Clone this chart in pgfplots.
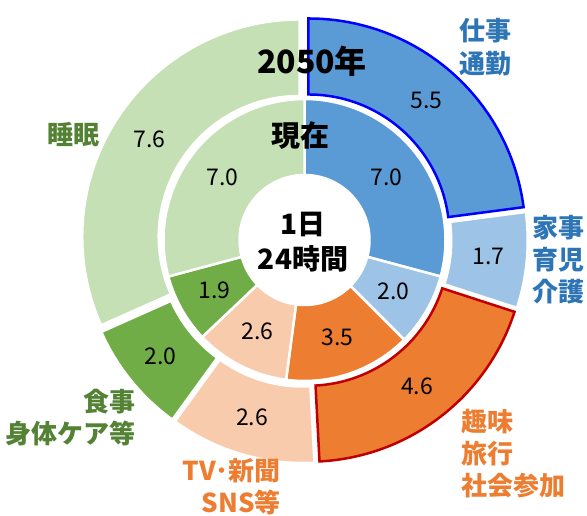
\documentclass[border=0pt]{standalone}
\usepackage{pgfplots}
\pgfplotsset{compat=1.18}
\usepackage{pgfplotstable}
\usepackage{fontspec}
\setmainfont{Noto Sans CJK JP}

\definecolor{cWork}{HTML}{5B9BD5}
\definecolor{cHouse}{HTML}{9DC3E6}
\definecolor{cHobby}{HTML}{ED7D31}
\definecolor{cTV}{HTML}{F8CBAD}
\definecolor{cMeal}{HTML}{70AD47}
\definecolor{cSleep}{HTML}{C5E0B4}
\definecolor{bWork}{HTML}{0000FF}
\definecolor{bHobby}{HTML}{C00000}
\definecolor{tBlue}{HTML}{2E75B6}
\definecolor{tOrange}{HTML}{ED7D31}
\definecolor{tGreen}{HTML}{548235}

% current (inner ring), hours per day
\pgfplotstableread{
val col border bw
7.0 cWork white 2.5
2.0 cHouse white 2.5
3.5 cHobby white 2.5
2.6 cTV white 2.5
1.9 cMeal white 2.5
7.0 cSleep white 2.5
}\innerdata

% 2050 (outer ring)
\pgfplotstableread{
val col border bw
5.5 cWork bWork 2.5
1.7 cHouse white 2
4.6 cHobby bHobby 2.5
2.6 cTV white 2
2.0 cMeal white 2
7.6 cSleep white 2
}\outerdata

\def\cx{304.5}
\def\cy{276}

% #1 table, #2 inner radius, #3 outer radius, #4 explosion
\newcommand\drawring[4]{%
  \pgfplotstablegetrowsof{#1}%
  \pgfmathtruncatemacro\lastrow{\pgfplotsretval-1}%
  \gdef\cum{0}%
  \foreach \i in {0,...,\lastrow}{%
    \pgfplotstablegetelem{\i}{val}\of{#1}\let\sV\pgfplotsretval
    \pgfplotstablegetelem{\i}{col}\of{#1}\let\sC\pgfplotsretval
    \pgfplotstablegetelem{\i}{border}\of{#1}\let\sB\pgfplotsretval
    \pgfplotstablegetelem{\i}{bw}\of{#1}\let\sW\pgfplotsretval
    \pgfmathsetmacro\sA{90-15*\cum}%
    \pgfmathsetmacro\sE{90-15*(\cum+\sV)}%
    \pgfmathsetmacro\sM{(\sA+\sE)/2}%
    \pgfmathsetmacro\sR{(#2+#3)/2}%
    \begin{scope}[shift={(axis cs:\cx,\cy)}, shift={(\sM:#4pt)}]
      \filldraw[fill=\sC, draw=\sB, line width=\sW pt, line join=miter]
        (\sA:#2pt) arc[start angle=\sA, end angle=\sE, radius=#2pt]
        -- (\sE:#3pt) arc[start angle=\sE, end angle=\sA, radius=#3pt] -- cycle;
      \node[font=\fontsize{23}{26}\selectfont, inner sep=0pt] at (\sM:\sR pt) {\sV};
    \end{scope}
    \pgfmathsetmacro\nc{\cum+\sV}%
    \xdef\cum{\nc}%
  }%
}

\begin{document}
\begin{tikzpicture}
\begin{axis}[
  x=1pt, y=1pt,
  xmin=0, xmax=587, ymin=0, ymax=516,
  hide axis, clip=false,
]
\pgfplotsextra{
  \path (axis cs:0,0) rectangle (axis cs:587,516);
  \drawring{\innerdata}{65}{141}{0}
  \drawring{\outerdata}{141}{217}{6}
  % centre texts
  \node[font=\bfseries\fontsize{32}{36}\selectfont, inner sep=0pt] at (axis cs:312,455) {2050年};
  \node[font=\bfseries\fontsize{29}{33}\selectfont, inner sep=0pt] at (axis cs:300,380) {現在};
  \node[font=\bfseries\fontsize{28}{35}\selectfont, align=center, inner sep=0pt] at (axis cs:303,273.5) {1日\\24時間};
  % category labels
  \node[anchor=west, align=left, inner sep=0pt, text=tBlue, font=\bfseries\fontsize{26}{33}\selectfont] at (axis cs:459,468.5) {仕事\\通勤};
  \node[anchor=west, align=left, inner sep=0pt, text=tBlue, font=\bfseries\fontsize{26}{32}\selectfont] at (axis cs:532,256) {家事\\育児\\介護};
  \node[anchor=west, align=left, inner sep=0pt, text=tOrange, font=\bfseries\fontsize{26}{32}\selectfont] at (axis cs:461,62) {趣味\\旅行\\社会参加};
  \node[anchor=east, align=right, inner sep=0pt, text=tOrange, font=\bfseries\fontsize{26}{32}\selectfont] at (axis cs:281,29) {TV･新聞\\SNS等};
  \node[anchor=east, align=right, inner sep=0pt, text=tGreen, font=\bfseries\fontsize{26}{32}\selectfont] at (axis cs:136,98) {食事\\身体ケア等};
  \node[anchor=east, inner sep=0pt, text=tGreen, font=\bfseries\fontsize{26}{32}\selectfont] at (axis cs:100,381.5) {睡眠};
}
\end{axis}
\end{tikzpicture}
\end{document}
